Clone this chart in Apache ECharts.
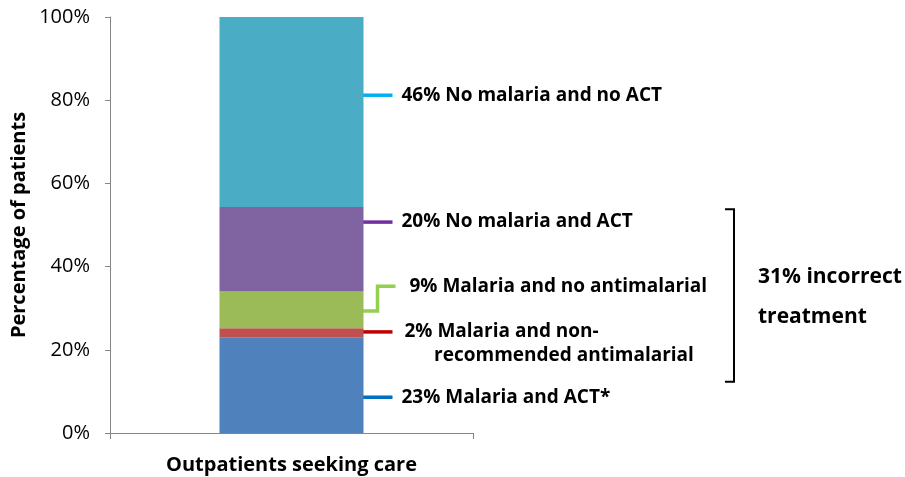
<!DOCTYPE html>
<html>
<head>
<meta charset="utf-8">
<script src="https://cdn.jsdelivr.net/npm/echarts@6/dist/echarts.min.js"></script>
<style>
    html, body { margin: 0; padding: 0; background: #fff; }
    #chart { width: 905px; height: 477px; }
</style>
</head>
<body>
<div id="chart"></div>
<script>
    // data, bottom segment first
    const categories = ['Outpatients seeking care'];
    const seriesNames = ['Malaria and ACT*', 'Malaria and non-recommended antimalarial',
        'Malaria and no antimalarial', 'No malaria and ACT', 'No malaria and no ACT'];
    const seriesValues = [23, 2.2, 8.8, 20.3, 45.7];
    const seriesLabels = ['23% Malaria and ACT*', '2% Malaria and non-\n      recommended antimalarial',
        '9% Malaria and no antimalarial', '20% No malaria and ACT', '46% No malaria and no ACT'];
    const bracketLabel = '31% incorrect\ntreatment';
    const yTicks = [0, 20, 40, 60, 80, 100];

    const barColors = ['#4F81BD', '#C0504D', '#9BBB59', '#8064A2', '#4BACC6'];
    const leaderColors = ['#0070C0', '#C00000', '#92D050', '#7030A0', '#00B0F0'];
    const FONT = 'Open Sans';

    let myChart = echarts.init(document.getElementById('chart'));

    var option = {
        animation: false,
        textStyle: {fontFamily: FONT},
        grid: {left: 110, right: 432, top: 17, bottom: 44},
        xAxis: {
            type: 'category',
            data: categories,
            axisLine: {lineStyle: {color: '#868686', width: 1}},
            axisTick: {show: true, alignWithLabel: false, length: 6, lineStyle: {color: '#868686'}},
            axisLabel: {margin: 22, color: '#000', fontSize: 20, fontWeight: 'bold', fontFamily: FONT}
        },
        yAxis: {
            type: 'value',
            min: yTicks[0],
            max: yTicks[yTicks.length - 1],
            interval: yTicks[1] - yTicks[0],
            name: 'Percentage of patients',
            nameLocation: 'middle',
            nameRotate: 90,
            nameGap: 81,
            nameTextStyle: {color: '#000', fontSize: 20, fontWeight: 'bold', fontFamily: FONT},
            axisLine: {show: true, lineStyle: {color: '#868686', width: 1}},
            axisTick: {show: true, length: 5, lineStyle: {color: '#868686'}},
            splitLine: {show: false},
            axisLabel: {margin: 20, color: '#000', fontSize: 20, fontFamily: FONT, formatter: '{value}%'}
        },
        series: seriesNames.map((name, i) => ({
            name: name,
            type: 'bar',
            stack: 'total',
            barWidth: 144,
            itemStyle: {color: barColors[i]},
            data: [seriesValues[i]]
        }))
    };
    myChart.setOption(option);

    // leader lines and labels, placed through the axes
    const anchors = [8.6, 24.3, 29.3, 50.7, 81.2];
    const cx = myChart.convertToPixel({xAxisIndex: 0}, 0);
    const barRight = cx + 72;
    const py = v => myChart.convertToPixel({yAxisIndex: 0}, v);
    const textStyle = {fontFamily: FONT, fontSize: 19, fontWeight: 'bold', fill: '#000'};

    let graphics = [];
    anchors.forEach((a, i) => {
        let y = py(a);
        let textY = y;
        let textX = barRight + 38;
        if (i === 2) {
            // elbow leader for the small green segment
            let y2 = py(35.3);
            graphics.push({
                type: 'polyline',
                shape: {points: [[barRight - 2, y], [barRight + 14, y], [barRight + 14, y2], [barRight + 32, y2]]},
                style: {stroke: leaderColors[i], lineWidth: 3.5, fill: null}
            });
            textY = y2;
            textX = barRight + 46;
        } else {
            graphics.push({
                type: 'line',
                shape: {x1: barRight - 2, y1: y, x2: barRight + 29, y2: y},
                style: {stroke: leaderColors[i], lineWidth: 3.5}
            });
            if (i === 1) textX = barRight + 41;
        }
        graphics.push({
            type: 'text',
            x: textX,
            y: i === 1 ? textY - 12 : textY,
            style: Object.assign({}, textStyle, {
                text: seriesLabels[i],
                verticalAlign: i === 1 ? 'top' : 'middle',
                lineHeight: 24
            })
        });
    });

    // bracket for incorrect treatment
    let bTop = py(53.8), bBottom = py(12.3);
    graphics.push({
        type: 'polyline',
        shape: {points: [[725, bTop], [734, bTop], [734, bBottom], [725, bBottom]]},
        style: {stroke: '#000', lineWidth: 2, fill: null}
    });
    graphics.push({
        type: 'text',
        x: 758,
        y: (bTop + bBottom) / 2 - 38,
        style: Object.assign({}, textStyle, {text: bracketLabel, fontSize: 21, lineHeight: 40})
    });

    myChart.setOption({graphic: graphics});
</script>
</body>
</html>
